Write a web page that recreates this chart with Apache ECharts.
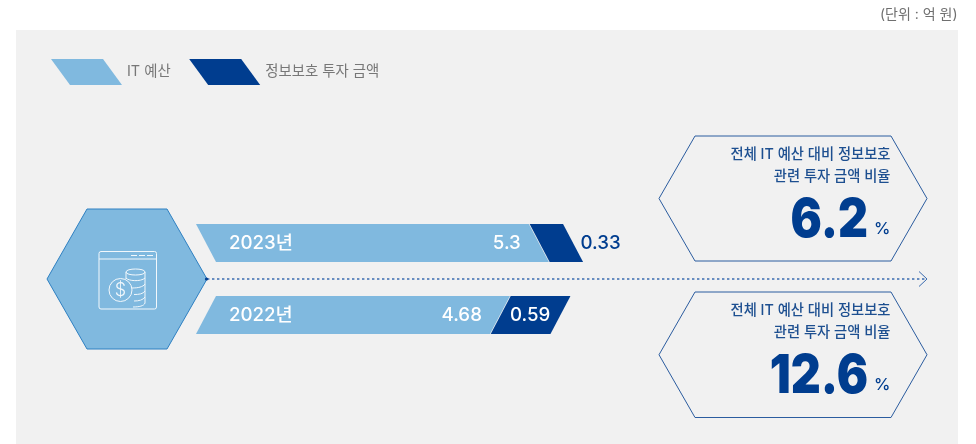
<!DOCTYPE html>
<html><head><meta charset="utf-8">
<style>html,body{margin:0;padding:0;background:#fff}#c{width:976px;height:444px}</style>
<script src="https://cdn.jsdelivr.net/npm/echarts@6/dist/echarts.min.js"></script>
</head><body><div id="c"></div>
<script>
var categories = ['2023년', '2022년'];
var itBudget = [5.3, 4.68];
var securityInvest = [0.33, 0.59];
var ratios = ['6.2', '12.6'];
var seriesNames = ['IT 예산', '정보보호 투자 금액'];
var unitLabel = '(단위 : 억 원)';
var calloutLines = ['전체 IT 예산 대비 정보보호', '관련 투자 금액 비율'];

var FONT = 'Inter, "Noto Sans CJK KR", sans-serif';
var LIGHT = '#80b9df', DARK = '#003d8f', LINE = '#2b5c9f';
var AX0 = 10, AX1 = 6.2, SKEW = 20, BAR_H = 38;

var chart = echarts.init(document.getElementById('c'), null, {renderer: 'canvas'});

function para(x0, x1, yc, idx, fill) {
  var t = yc - BAR_H / 2, b = yc + BAR_H / 2;
  var pts = idx === 0
    ? [[x0, t], [x1, t], [x1 + SKEW, b], [x0 + SKEW, b]]
    : [[x0 + SKEW, t], [x1 + SKEW, t], [x1, b], [x0, b]];
  return {type: 'polygon', shape: {points: pts}, style: {fill: fill}};
}
function txt(x, y, s, size, fill, align, weight) {
  return {type: 'text', x: x, y: y, style: {text: s, fontSize: size, fill: fill, align: align, verticalAlign: 'middle', fontFamily: FONT, fontWeight: weight || 400}};
}

function renderLight(p, api) {
  var i = api.value(1), v = api.value(0);
  var a = api.coord([0, i]), e = api.coord([v, i]);
  return {type: 'group', children: [
    para(a[0], e[0], a[1], i, LIGHT),
    txt(a[0] + 33, a[1] + 0.5, categories[i], 18.7, '#fff', 'left', 500),
    txt(e[0] - 8, a[1] + 0.5, String(v), 18.7, '#fff', 'right', 500)
  ]};
}
function renderDark(p, api) {
  var i = api.value(1), v = api.value(0), base = itBudget[i] * AX1 / AX0;
  var a = api.coord([base, i]), e = api.coord([base + v, i]);
  var x0 = a[0] + 0.8, x1 = e[0] + 0.8;
  var inside = x1 - x0 > 50;
  return {type: 'group', children: [
    para(x0, x1, a[1], i, DARK),
    inside
      ? txt(x0 + 39.5, a[1] + 0.5, String(v), 18.7, '#fff', 'center', 500)
      : txt(x1 + 37.5, a[1] + 0.5, String(v), 18.7, DARK, 'center', 500)
  ]};
}

var legendIcon = 'path://M0,0 L52,0 L71,26 L19,26 Z';
var g = [];
g.push({type: 'rect', silent: true, z: -10, shape: {x: 16, y: 30, width: 942, height: 414}, style: {fill: '#f1f1f1'}});
g.push({type: 'text', style: {text: unitLabel, x: 957.5, y: 15, align: 'right', verticalAlign: 'middle', fontSize: 14, fill: '#6f6f6f', fontFamily: FONT}});
g.push({type: 'polygon', z: 1, shape: {points: [[47,279],[87,209],[167,209],[207,279],[167,349],[87,349]]}, style: {fill: LIGHT, stroke: '#2e80c2', lineWidth: 1}});
g.push({type: 'line', z: 2, shape: {x1: 207, y1: 279, x2: 926, y2: 279}, style: {stroke: '#3a6bb0', lineWidth: 1.3, lineDash: [2.4, 2.6]}});
g.push({type: 'polyline', z: 2, shape: {points: [[919,271.5],[927,279],[919,286.5]]}, style: {stroke: '#3a6bb0', lineWidth: 1, fill: 'none'}});
g.push({type: 'circle', z: 2, shape: {cx: 206.5, cy: 279, r: 1.6}, style: {fill: DARK}});
var W = {stroke: '#f2f8fc', lineWidth: 1, fill: 'none'};
g.push({type: 'rect', z: 3, shape: {x: 99, y: 251.5, width: 57.5, height: 57.5, r: 2}, style: W});
g.push({type: 'line', z: 3, shape: {x1: 99, y1: 259, x2: 156.5, y2: 259}, style: W});
g.push({type: 'line', z: 3, shape: {x1: 131, y1: 255.5, x2: 154, y2: 255.5}, style: {stroke: '#f2f8fc', lineWidth: 1.2, lineDash: [6, 2]}});
g.push({type: 'circle', z: 3, shape: {cx: 120.5, cy: 290, r: 11.5}, style: W});
function curve(x1, y1, cx1, cy1, cx2, cy2, x2, y2) {
  g.push({type: 'bezierCurve', z: 3, shape: {x1: x1, y1: y1, cpx1: cx1, cpy1: cy1, cpx2: cx2, cpy2: cy2, x2: x2, y2: y2}, style: W});
}
curve(126, 272, 126, 268, 145, 268, 145, 272);
curve(126, 272, 126, 276, 145, 276, 145, 272);
g.push({type: 'line', z: 3, shape: {x1: 126, y1: 272, x2: 126, y2: 279}, style: W});
g.push({type: 'line', z: 3, shape: {x1: 145, y1: 272, x2: 145, y2: 303}, style: W});
curve(126, 278, 128, 281, 141, 282, 145, 278);
curve(132, 288, 138, 288, 143, 287, 145, 284);
curve(134, 294.5, 139, 294.5, 143, 294, 145, 291);
curve(134, 301, 139, 301, 143, 300, 145, 297);
curve(133, 307, 139, 307, 144, 306, 145, 303);
g.push({type: 'text', z: 3, style: {text: '$', x: 120.5, y: 290.5, align: 'center', verticalAlign: 'middle', fontSize: 18, fill: '#f2f8fc', fontFamily: 'Inter, sans-serif', fontWeight: 300}});
[[136, 261], [292, 417.5]].forEach(function (r, k) {
  var top = r[0], bot = r[1], mid = (top + bot) / 2;
  g.push({type: 'polygon', shape: {points: [[659, mid],[695, top],[891, top],[927, mid],[891, bot],[695, bot]]}, style: {fill: 'none', stroke: LINE, lineWidth: 1}});
  calloutLines.forEach(function (s, j) {
    g.push({type: 'text', style: {text: s, x: 890.5, y: top + 18.5 + j * 22.5, align: 'right', verticalAlign: 'middle', fontSize: 14.3, fontWeight: 500, fill: '#1d4f90', fontFamily: FONT}});
  });
  g.push({type: 'text', x: 868, y: top + 85, scaleX: 0.86, style: {text: ratios[k], x: 0, y: 0, align: 'right', verticalAlign: 'middle', fontSize: 54, fontWeight: 900, fill: DARK, fontFamily: FONT}});
  g.push({type: 'text', style: {text: '%', x: 890.5, y: top + 93.5, align: 'right', verticalAlign: 'middle', fontSize: 16.5, fontWeight: 500, fill: DARK, fontFamily: FONT}});
});

chart.setOption({
  animation: false,
  backgroundColor: '#fff',
  graphic: {elements: g},
  grid: {left: 196, top: 207, width: 628, height: 144},
  xAxis: [
    {type: 'value', min: 0, max: AX0, show: false},
    {type: 'value', min: 0, max: AX1, show: false}
  ],
  yAxis: {type: 'category', inverse: true, data: categories, show: false},
  legend: {
    left: 51, top: 59, padding: 0, itemWidth: 71, itemHeight: 26, itemGap: 18.5, icon: legendIcon,
    selectedMode: false,
    textStyle: {color: '#777', fontSize: 14.4, fontFamily: FONT},
    data: seriesNames
  },
  series: [
    {name: seriesNames[0], type: 'custom', xAxisIndex: 0, itemStyle: {color: LIGHT}, z: 5,
     encode: {x: 0, y: 1}, renderItem: renderLight,
     data: itBudget.map(function (v, i) { return [v, i]; })},
    {name: seriesNames[1], type: 'custom', xAxisIndex: 1, itemStyle: {color: DARK}, z: 5,
     encode: {x: 0, y: 1}, renderItem: renderDark,
     data: securityInvest.map(function (v, i) { return [v, i]; })}
  ]
});
</script></body></html>
